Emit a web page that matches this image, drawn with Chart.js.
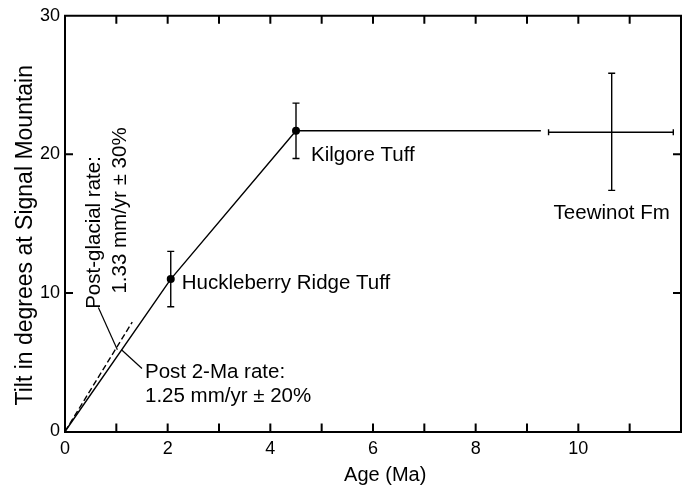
<!DOCTYPE html>
<html>
<head>
<meta charset="utf-8">
<script src="https://cdn.jsdelivr.net/npm/chart.js@4.4.1/dist/chart.umd.min.js"></script>
<style>
html,body{margin:0;padding:0;background:#fff;}
#wrap{width:688px;height:486px;position:relative;}
</style>
</head>
<body>
<div id="wrap"><canvas id="c" width="688" height="486"></canvas></div>
<script>
// ---- data ----
const rateLineAges  = [0, 2.06, 4.50];
const rateLineTilts = [0, 11.0, 21.7];
const postGlacialAges  = [0, 1.31];
const postGlacialTilts = [0, 7.9];
const tuffNames = ['Huckleberry Ridge Tuff', 'Kilgore Tuff'];
const tuffAges  = [2.06, 4.50];
const tuffTilts = [11.0, 21.7];
const tuffTiltErr = [2.0, 2.0];
const kilgoreLinkAges  = [4.50, 9.27];
const kilgoreLinkTilts = [21.7, 21.7];
const teeName = 'Teewinot Fm';
const teeAge = 10.65, teeAgeMin = 9.42, teeAgeMax = 11.85;
const teeTilt = 21.6, teeTiltMin = 17.4, teeTiltMax = 25.85;
const leaderGlacialAges  = [0.65, 1.02];
const leaderGlacialTilts = [8.95, 5.9];
const leader2MaAges  = [1.10, 1.50];
const leader2MaTilts = [5.9, 4.55];
const glacialText = ['Post-glacial rate:', '1.33 mm/yr \u00b1 30%'];
const rate2MaText = ['Post 2-Ma rate:', '1.25 mm/yr \u00b1 20%'];
const xTitle = 'Age (Ma)';
const yTitle = 'Tilt in degrees at Signal Mountain';
const xTickLabels = [0, 2, 4, 6, 8, 10];
const yTickLabels = [0, 10, 20, 30];

const FONT = "'Liberation Sans', Arial, Helvetica, sans-serif";
const pts = (xs, ys) => xs.map((x, i) => ({x, y: ys[i]}));

const lineDs = (xs, ys, extra) => Object.assign({
  type: 'line', data: pts(xs, ys), borderColor: '#000', borderWidth: 1.4,
  pointRadius: 0, fill: false, tension: 0, clip: false
}, extra || {});

const overlay = {
  id: 'overlay',
  afterDatasetsDraw(chart) {
    const ctx = chart.ctx, xs = chart.scales.x, ys = chart.scales.y;
    const X = v => xs.getPixelForValue(v), Y = v => ys.getPixelForValue(v);
    const a = chart.chartArea;
    ctx.save();
    ctx.strokeStyle = '#000';
    ctx.fillStyle = '#000';
    ctx.lineWidth = 1.4;
    // tuff vertical error bars
    tuffAges.forEach((age, i) => {
      const x = X(age), y1 = Y(tuffTilts[i] - tuffTiltErr[i]), y2 = Y(tuffTilts[i] + tuffTiltErr[i]);
      ctx.beginPath();
      ctx.moveTo(x, y1); ctx.lineTo(x, y2);
      ctx.moveTo(x - 3.5, y1); ctx.lineTo(x + 3.5, y1);
      ctx.moveTo(x - 3.5, y2); ctx.lineTo(x + 3.5, y2);
      ctx.stroke();
    });
    // Teewinot cross
    {
      const x = X(teeAge), y = Y(teeTilt);
      const xa = X(teeAgeMin), xb = X(teeAgeMax), ya = Y(teeTiltMin), yb = Y(teeTiltMax);
      ctx.beginPath();
      ctx.moveTo(xa, y); ctx.lineTo(xb, y);
      ctx.moveTo(xa, y - 3); ctx.lineTo(xa, y + 3);
      ctx.moveTo(xb, y - 3); ctx.lineTo(xb, y + 3);
      ctx.moveTo(x, ya); ctx.lineTo(x, yb);
      ctx.moveTo(x - 3.5, ya); ctx.lineTo(x + 3.5, ya);
      ctx.moveTo(x - 3.5, yb); ctx.lineTo(x + 3.5, yb);
      ctx.stroke();
    }
    // frame top/right + inward ticks
    ctx.lineWidth = 2;
    ctx.beginPath();
    ctx.moveTo(a.left - 1, a.top); ctx.lineTo(a.right, a.top); ctx.lineTo(a.right, a.bottom + 1);
    ctx.stroke();
    ctx.beginPath();
    for (let v = 1; v < 12; v++) {
      const x = X(v);
      ctx.moveTo(x, a.bottom); ctx.lineTo(x, a.bottom - 8);
      ctx.moveTo(x, a.top); ctx.lineTo(x, a.top + 8);
    }
    [10, 20].forEach(v => {
      const y = Y(v);
      ctx.moveTo(a.left, y); ctx.lineTo(a.left + 8, y);
      ctx.moveTo(a.right, y); ctx.lineTo(a.right - 8, y);
    });
    ctx.stroke();
    // text labels
    ctx.font = '20.5px ' + FONT;
    ctx.textBaseline = 'middle';
    ctx.textAlign = 'left';
    ctx.fillText(tuffNames[0], X(tuffAges[0]) + 11, Y(tuffTilts[0]) + 4);
    ctx.fillText(tuffNames[1], X(tuffAges[1]) + 15, Y(tuffTilts[1]) + 25);
    ctx.textAlign = 'center';
    ctx.fillText(teeName, X(teeAge), Y(teeTiltMin) + 23);
    ctx.textAlign = 'left';
    const lx = X(leader2MaAges[1]), ly = Y(leader2MaTilts[1]);
    ctx.fillText(rate2MaText[0], lx + 3, ly + 4);
    ctx.fillText(rate2MaText[1], lx + 3, ly + 28);
    const gx = X(leaderGlacialAges[0]), gy = Y(leaderGlacialTilts[0]);
    ctx.save();
    ctx.translate(gx - 4, gy - 75);
    ctx.rotate(-Math.PI / 2);
    ctx.textAlign = 'center';
    ctx.fillText(glacialText[0], 0, 0);
    ctx.restore();
    ctx.save();
    ctx.translate(gx + 22, gy - 97);
    ctx.rotate(-Math.PI / 2);
    ctx.textAlign = 'center';
    ctx.fillText(glacialText[1], 0, 0);
    ctx.restore();
    // axis titles
    ctx.textBaseline = 'alphabetic';
    ctx.font = '20px ' + FONT;
    ctx.textAlign = 'right';
    ctx.fillText(xTitle, X(10) - 152, a.bottom + 49);
    ctx.save();
    ctx.font = '23px ' + FONT;
    ctx.translate(a.left - 33, a.bottom - 26);
    ctx.rotate(-Math.PI / 2);
    ctx.textAlign = 'left';
    ctx.fillText(yTitle, 0, 0);
    ctx.restore();
    ctx.restore();
  }
};

new Chart(document.getElementById('c'), {
  type: 'scatter',
  data: {
    datasets: [
      lineDs(rateLineAges, rateLineTilts),
      lineDs(postGlacialAges, postGlacialTilts, {borderDash: [6, 3]}),
      lineDs(kilgoreLinkAges, kilgoreLinkTilts),
      lineDs(leaderGlacialAges, leaderGlacialTilts, {borderWidth: 1.2}),
      lineDs(leader2MaAges, leader2MaTilts, {borderWidth: 1.2}),
      {
        type: 'scatter', data: pts(tuffAges, tuffTilts),
        pointRadius: 4, pointBackgroundColor: '#000', pointBorderColor: '#000', borderWidth: 0
      }
    ]
  },
  options: {
    responsive: false,
    animation: false,
    devicePixelRatio: 1,
    layout: {autoPadding: false, padding: {top: 11, right: 4, left: 0, bottom: 0}},
    plugins: {legend: {display: false}, tooltip: {enabled: false}},
    scales: {
      x: {
        type: 'linear', min: 0, max: 12,
        afterFit: s => { s.height = 54.5; },
        grid: {display: false, drawTicks: false},
        border: {display: true, color: '#000', width: 2},
        ticks: {
          stepSize: 1, padding: 7, color: '#000', maxRotation: 0,
          font: {size: 18, family: FONT},
          callback: v => xTickLabels.includes(v) ? String(v) : ''
        }
      },
      y: {
        type: 'linear', min: 0, max: 30,
        afterFit: s => { s.width = 65; },
        grid: {display: false, drawTicks: false},
        border: {display: true, color: '#000', width: 2},
        ticks: {
          stepSize: 10, padding: 5, color: '#000',
          font: {size: 18, family: FONT},
          callback: v => yTickLabels.includes(v) ? String(v) : ''
        }
      }
    }
  },
  plugins: [overlay]
});
</script>
</body>
</html>
